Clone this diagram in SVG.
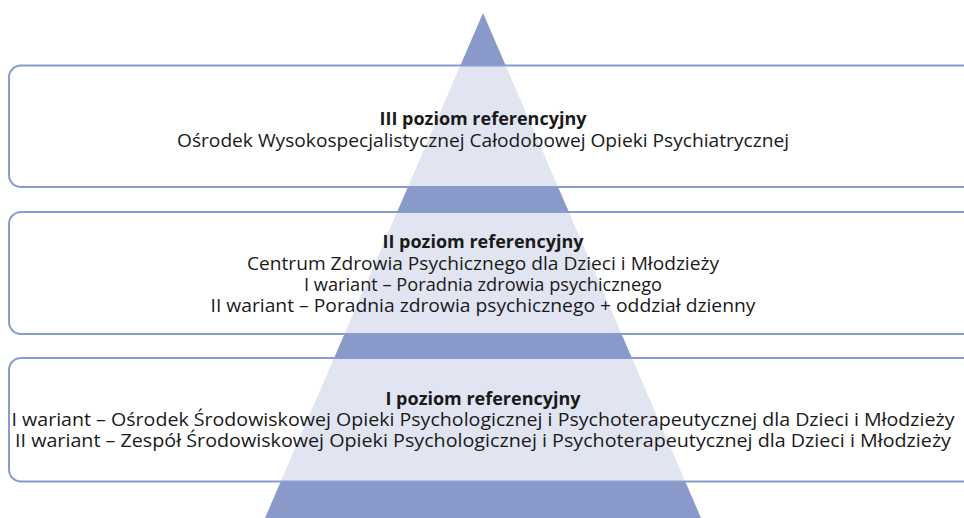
<svg xmlns="http://www.w3.org/2000/svg" width="964" height="518" viewBox="0 0 964 518">
<style>
.box{fill:#ffffff;fill-opacity:0.75;stroke:#8a9bd0;stroke-width:2}
text{font-family:"Open Sans","Noto Sans","DejaVu Sans",sans-serif;font-size:18px;fill:#1a1a1a;text-anchor:middle}
.b{font-weight:bold;font-size:18px}
</style>
<rect width="964" height="518" fill="#ffffff"/>
<g id="pyramid">
<polygon points="483,13 265,518 701,518" fill="#8999ca"/>
</g>
<g id="connectors"></g>
<g id="level3">
<rect class="box" x="9" y="65.5" width="970" height="121.5" rx="12" ry="12"/>
<text x="483" y="125" class="b">III poziom referencyjny</text>
<text x="483" y="147" textLength="612" lengthAdjust="spacingAndGlyphs">Ośrodek Wysokospecjalistycznej Całodobowej Opieki Psychiatrycznej</text>
</g>
<g id="level2">
<rect class="box" x="9" y="212" width="970" height="122" rx="12" ry="12"/>
<text x="483" y="248" class="b">II poziom referencyjny</text>
<text x="483" y="270" textLength="472" lengthAdjust="spacingAndGlyphs">Centrum Zdrowia Psychicznego dla Dzieci i Młodzieży</text>
<text x="483" y="291" textLength="358" lengthAdjust="spacingAndGlyphs">I wariant – Poradnia zdrowia psychicznego</text>
<text x="483" y="312" textLength="545" lengthAdjust="spacingAndGlyphs">II wariant – Poradnia zdrowia psychicznego + oddział dzienny</text>
</g>
<g id="level1">
<rect class="box" x="9" y="358" width="970" height="123.5" rx="12" ry="12"/>
<text x="483" y="405" class="b">I poziom referencyjny</text>
<text x="483" y="426" textLength="943" lengthAdjust="spacingAndGlyphs">I wariant – Ośrodek Środowiskowej Opieki Psychologicznej i Psychoterapeutycznej dla Dzieci i Młodzieży</text>
<text x="483" y="447" textLength="936" lengthAdjust="spacingAndGlyphs">II wariant – Zespół Środowiskowej Opieki Psychologicznej i Psychoterapeutycznej dla Dzieci i Młodzieży</text>
</g>
</svg>
